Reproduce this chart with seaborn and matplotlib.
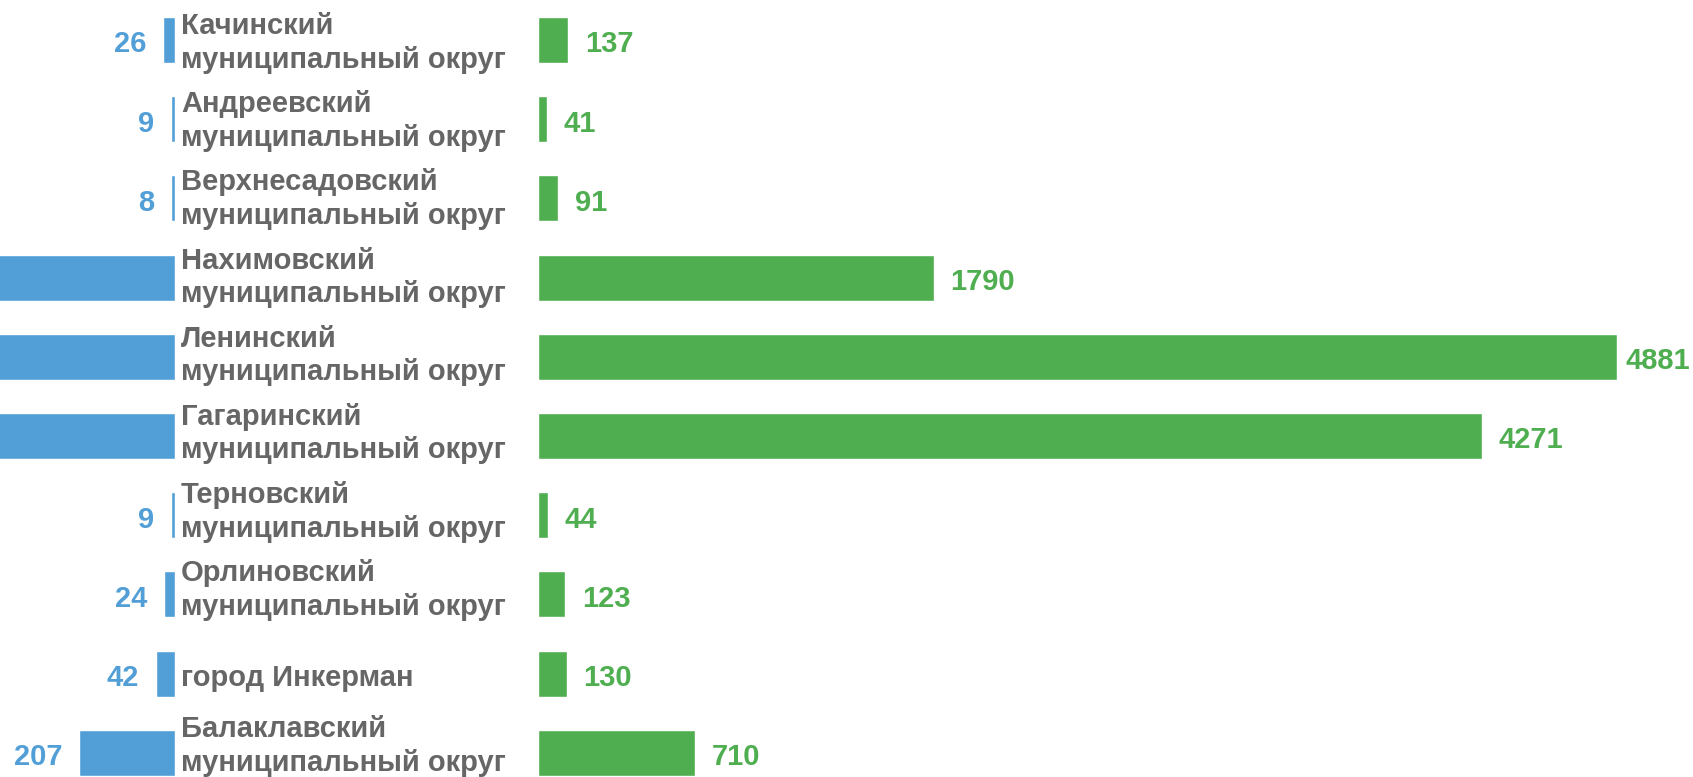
import matplotlib
matplotlib.use("Agg")
import matplotlib.pyplot as plt
import matplotlib.transforms as mtransforms
import seaborn as sns

regions = [
    "Качинский\nмуниципальный округ",
    "Андреевский\nмуниципальный округ",
    "Верхнесадовский\nмуниципальный округ",
    "Нахимовский\nмуниципальный округ",
    "Ленинский\nмуниципальный округ",
    "Гагаринский\nмуниципальный округ",
    "Терновский\nмуниципальный округ",
    "Орлиновский\nмуниципальный округ",
    "город Инкерман",
    "Балаклавский\nмуниципальный округ",
]
# left series (blue); the three big ones run off the picture, values estimated
blue_vals = [26, 9, 8, 520, 1100, 980, 9, 24, 42, 207]
# right series (green)
green_vals = [137, 41, 91, 1790, 4881, 4271, 44, 123, 130, 710]

BLUE = "#529FD7"
GREEN = "#4FAE50"
GRAY = "#666666"

sns.set_theme(style="white")
plt.rcParams["font.family"] = ["Liberation Sans", "DejaVu Sans"]

W, H = 1693, 777
fig = plt.figure(figsize=(W / 100, H / 100), dpi=100)

row_top = 40 - 39.6
row_h = 79.2 * 10
bottom = 1 - (row_top + row_h) / H
height = row_h / H

ax_l = fig.add_axes([0, bottom, 175 / W, height])
ax_r = fig.add_axes([538 / W, bottom, (W - 538) / W, height])

sns.barplot(x=blue_vals, y=regions, orient="h", color=BLUE, width=0.58,
            saturation=1, ax=ax_l)
sns.barplot(x=green_vals, y=regions, orient="h", color=GREEN, width=0.58,
            saturation=1, ax=ax_r)

blue_max = 377
green_max = 5226
ax_l.set_xlim(blue_max, 0)
ax_r.set_xlim(0, green_max)

for ax in (ax_l, ax_r):
    ax.set_ylim(9.5, -0.5)
    ax.axis("off")

for i, v in enumerate(blue_vals):
    if v < blue_max:
        ax_l.annotate(str(v), xy=(v, i), xytext=(-12, -1),
                      textcoords="offset points", ha="right",
                      va="center_baseline",
                      fontsize=21, fontweight="bold", color=BLUE)

for i, v in enumerate(green_vals):
    pad = 6 if v == max(green_vals) else 12
    ax_r.annotate(str(v), xy=(v, i), xytext=(pad, -1),
                  textcoords="offset points", ha="left",
                  va="center_baseline",
                  fontsize=21, fontweight="bold", color=GREEN,
                  annotation_clip=False)

# region names sit between the two bar groups; two-line ones drift up a bit
trans = mtransforms.blended_transform_factory(fig.transFigure, ax_l.transData)
for i, name in enumerate(regions):
    off = 0.05 if "\n" not in name else 0.04 - 0.014 * i
    fig.text(181 / W, i + off, name, transform=trans,
             ha="left", va="center", fontsize=21, fontweight="bold",
             color=GRAY, linespacing=1.26)

fig.savefig("out.png", dpi=100)
